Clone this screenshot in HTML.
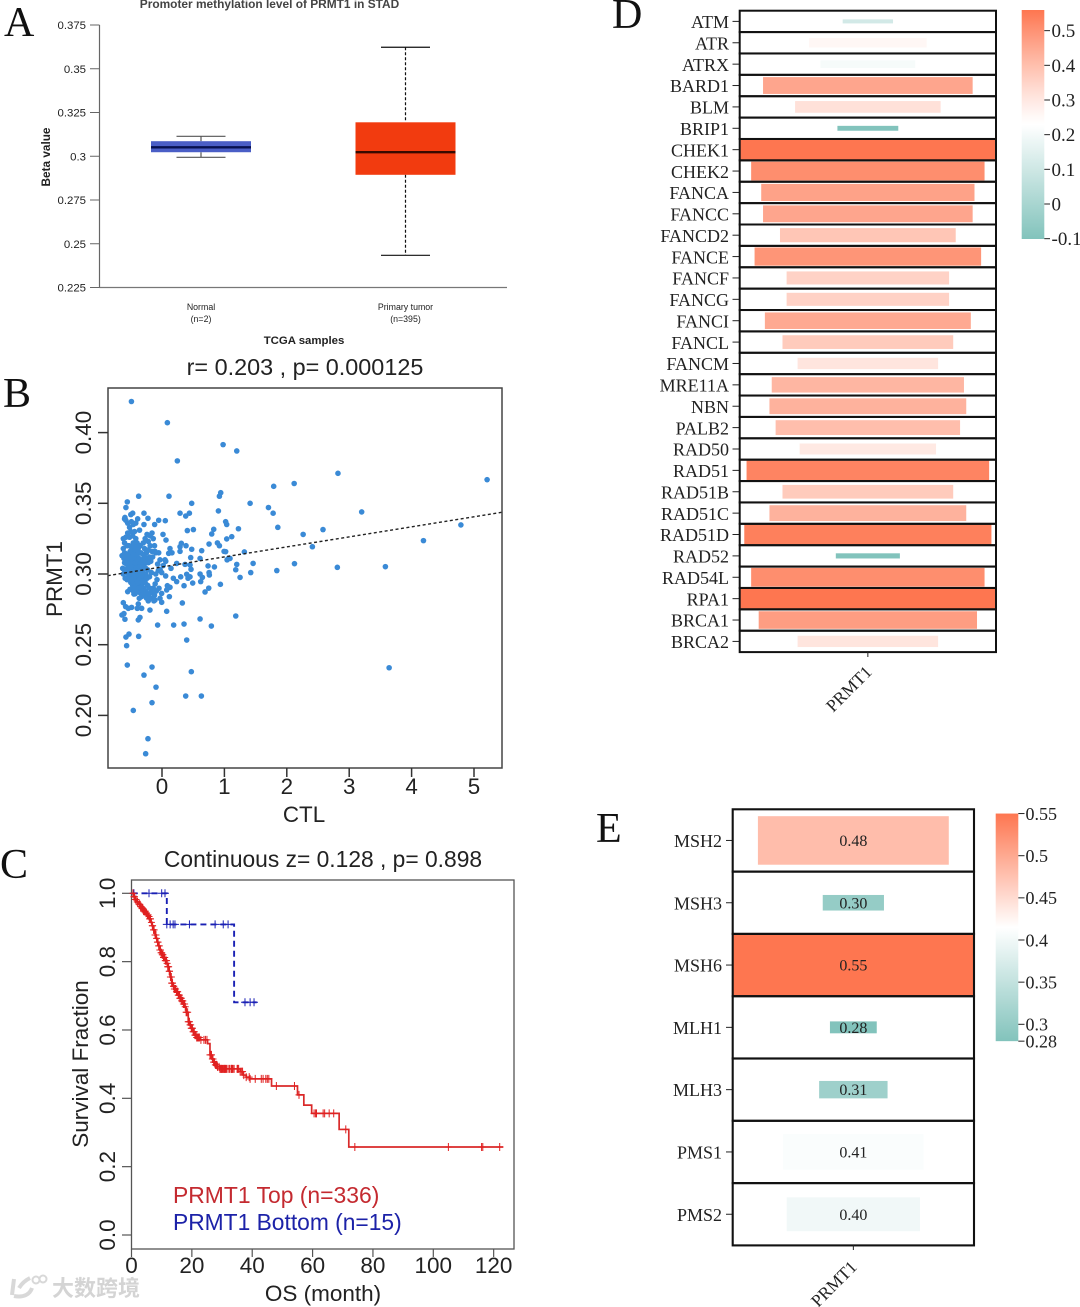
<!DOCTYPE html>
<html lang="en">
<head>
<meta charset="utf-8">
<title>PRMT1 multi-panel figure</title>
<style>
html,body{margin:0;padding:0;background:#fff;}
svg{display:block;}
text{font-family:"Liberation Sans",sans-serif;}
.serif{font-family:"Liberation Serif",serif;}
.panel-letter{font-family:"Liberation Serif",serif;font-size:42px;fill:#111;}
</style>
</head>
<body>
<svg id="figure" xmlns="http://www.w3.org/2000/svg" width="1080" height="1307" viewBox="0 0 1080 1307">
<rect x="0" y="0" width="1080" height="1307" fill="#fff"/>
<defs>
<linearGradient id="cbD" x1="0" y1="0" x2="0" y2="1"></linearGradient>
<linearGradient id="cbE" x1="0" y1="0" x2="0" y2="1"></linearGradient>
</defs>

<text class="panel-letter" x="4" y="36">A</text>
<text class="panel-letter" x="3" y="407">B</text>
<text class="panel-letter" x="0" y="878">C</text>
<text class="panel-letter" x="612" y="28">D</text>
<text class="panel-letter" x="596" y="842">E</text>

<g id="panelA">
<text x="269.5" y="8" text-anchor="middle" font-size="11.9" font-weight="bold" fill="#444">Promoter methylation level of PRMT1 in STAD</text>
<text transform="rotate(-90 50 157)" x="50" y="157" text-anchor="middle" font-size="11.8" font-weight="bold" fill="#222">Beta value</text>
<text x="304" y="344" text-anchor="middle" font-size="11.4" font-weight="bold" fill="#222">TCGA samples</text>
</g>

<g id="panelB">
<text x="305" y="375" text-anchor="middle" font-size="23.4" fill="#222">r= 0.203 , p= 0.000125</text>
<text transform="rotate(-90 62 579)" x="62" y="579" text-anchor="middle" font-size="22.4" fill="#222">PRMT1</text>
<text x="304" y="822" text-anchor="middle" font-size="22.4" fill="#222">CTL</text>
</g>

<g id="panelC">
<text x="323" y="867" text-anchor="middle" font-size="22.8" fill="#222">Continuous z= 0.128 , p= 0.898</text>
<text transform="rotate(-90 88 1064)" x="88" y="1064" text-anchor="middle" font-size="22.5" fill="#222">Survival Fraction</text>
<text x="323" y="1301" text-anchor="middle" font-size="22.5" fill="#222">OS (month)</text>
<text x="173" y="1203" font-size="22.9" fill="#c42a30">PRMT1 Top (n=336)</text>
<text x="173" y="1230" font-size="22.8" fill="#1c22a8">PRMT1 Bottom (n=15)</text>
</g>

<g id="panelD">
<text class="serif" transform="rotate(-45 873 673)" x="873" y="673" text-anchor="end" font-size="17.5" fill="#222">PRMT1</text>
</g>

<g id="panelE">
<text class="serif" transform="rotate(-45 858 1268)" x="858" y="1268" text-anchor="end" font-size="17.5" fill="#222">PRMT1</text>
</g>

<g>
<path d="M14 1279 L12 1295 M14 1296 C24 1298 30 1294 32 1288 M19 1288 C22 1283 26 1280 30 1278" fill="none" stroke="#d8d8d8" stroke-width="4"/>
<circle cx="36" cy="1280" r="3.5" fill="none" stroke="#d8d8d8" stroke-width="2"/>
<circle cx="43" cy="1279" r="3.5" fill="none" stroke="#d8d8d8" stroke-width="2"/>
<text x="52" y="1296" font-size="22" font-weight="bold" fill="#d4d4d4" style="font-family:'Liberation Sans','Noto Sans CJK SC',sans-serif">大数跨境</text>
</g>
</svg>

<script>
/* ---------- Panel A data ---------- */
const boxCategories = ['Normal', 'Primary tumor'];
const boxCounts = ['(n=2)', '(n=395)'];
const boxWhiskerLow = [0.2994, 0.2434];
const boxQ1 = [0.3023, 0.2894];
const boxMedian = [0.3051, 0.3023];
const boxQ3 = [0.3086, 0.3194];
const boxWhiskerHigh = [0.3114, 0.3623];
const boxYTicks = [0.225, 0.25, 0.275, 0.3, 0.325, 0.35, 0.375];
const boxYTickLabels = ['0.225', '0.25', '0.275', '0.3', '0.325', '0.35', '0.375'];

/* ---------- Panel B data: [CTL, PRMT1] ---------- */
const scatterOutliers = [
[-.49,.422],[.086,.407],[.246,.38],[.979,.3915],[1.198,.387],[1.79,.362],[2.118,.364],[-.556,.351],[-.578,.347],[-.374,.355],
[.112,.355],[.941,.3575],[.92,.355],[.476,.35],[1.412,.35],[1.706,.347],[1.781,.343],[1.856,.333],[2.262,.328],[.904,.3446],
[.439,.343],[.289,.343],[.38,.341],[-.289,.343],[-.47,.343],[-.594,.34],[-.225,.3394],[-.053,.338],[.053,.3377],[-.118,.335],
[-.289,.335],[1.02,.337],[1.037,.335],[1.225,.332],[.829,.3316],[.503,.3314],[.406,.3307],[.797,.3283],[.016,.328],[.064,.324],
[1.118,.3264],[1.037,.3248],[.888,.322],[.754,.3212],[.31,.3217],[.289,.3193],[.385,.32],[.476,.3175],[.636,.3165],[.92,.32],
[.995,.316],[1.02,.3158],[1.32,.3156],[.289,.316],[.128,.318],[.16,.315],[.107,.3146],[-.053,.315],[-.112,.316],[.46,.3116],
[.61,.311],[1.064,.311],[1.09,.311],[1.043,.31],[1.198,.3068],[1.46,.3075],[1.182,.303],[1.422,.301],[1.251,.2976],[1.84,.3024],
[2.123,.3073],[.84,.305],[.738,.3057],[.235,.3075],[.369,.3068],[.449,.3064],[.465,.3033],[-.032,.31],[.048,.31],[.144,.304],
[-.059,.3024],[-.005,.301],[.61,.3],[.754,.301],[.647,.2976],[.759,.2993],[.396,.2998],[.3,.298],[.449,.298],[.417,.297],
[.182,.297],[.059,.2986],[.235,.2946],[.353,.2917],[.492,.2936],[.62,.2946],[.086,.2917],[.128,.2906],[.075,.2887],[.118,.284],
[-.048,.2899],[-.005,.2863],[-.032,.2828],[-.005,.28],[-.112,.2816],[.326,.2795],[.936,.2927],[.749,.29],[.69,.2873],[.075,.2736],
[-.193,.2745],[1.182,.2703],[.61,.2682],[-.38,.2675],[-.353,.2693],[-.07,.2639],[.187,.2639],[.353,.2646],[.791,.2632],[-.374,.2559],
[-.529,.2575],[-.578,.2554],[-.567,.2493],[.396,.2533],[-.556,.2356],[-.16,.2342],[-.289,.2285],[.47,.2309],[-.096,.22],[.38,.2137],
[.631,.2137],[-.16,.209],[-.46,.2035],[-.225,.1835],[-.262,.1729],[2.82,.3712],[3.2,.3439],[2.58,.3314],[2.41,.3193],[2.81,.3047],
[3.58,.3052],[3.64,.2337],[4.19,.3236],[4.79,.3347],[5.21,.3667],
[-.62,.2797],[-.583,.2769],[-.642,.271],[-.61,.272],[-.594,.268],[-.54,.2757],[-.487,.2764],[-.38,.2788],[-.326,.2757],[-.396,.2757],
[-.364,.2828],[-.45,.2858],[-.55,.2875],[-.513,.2892]
];
const scatterCloud = [
[-.62,.325],[-.6,.322],[-.58,.326],[-.62,.318],[-.6,.315],[-.64,.313],[-.61,.311],[-.58,.312],[-.56,.314],[-.54,.31],
[-.52,.313],[-.6,.308],[-.57,.307],[-.63,.304],[-.6,.303],[-.58,.301],[-.55,.304],[-.52,.303],[-.62,.3],[-.59,.297],
[-.56,.296],[-.53,.298],[-.5,.3],[-.48,.303],[-.45,.306],[-.42,.309],[-.4,.306],[-.38,.303],[-.44,.3],[-.41,.298],
[-.38,.296],[-.35,.3],[-.33,.303],[-.36,.308],[-.33,.31],[-.3,.307],[-.28,.305],[-.25,.31],[-.22,.308],[-.2,.312],
[-.18,.309],[-.15,.312],[-.26,.3],[-.23,.303],[-.2,.298],[-.17,.301],[-.5,.294],[-.47,.292],[-.44,.295],[-.41,.291],
[-.38,.292],[-.35,.294],[-.32,.291],[-.46,.288],[-.43,.286],[-.4,.289],[-.36,.287],[-.33,.284],[-.29,.29],[-.26,.288],
[-.23,.292],[-.2,.29],[-.17,.287],[-.14,.29],[-.11,.293],[-.08,.296],[-.12,.285],[-.09,.288],[-.15,.283],[-.55,.329],
[-.52,.326],[-.5,.33],[-.47,.327],[-.44,.33],[-.42,.325],[-.4,.322],[-.46,.322],[-.49,.319],[-.44,.317],[-.41,.315],
[-.38,.318],[-.35,.32],[-.3,.322],[-.27,.325],[-.24,.328],[-.22,.323],[-.19,.327],[-.16,.329],[-.14,.325],[-.12,.32],
[-.28,.318],[-.25,.315],[-.22,.317],[-.19,.32],[-.16,.316],[-.1,.315],[-.55,.336],[-.52,.333],[-.49,.337],[-.46,.335],
[-.42,.336],[-.39,.339],[-.36,.331],[-.5,.342],[-.58,.338],[-.6,.339],[-.53,.32],[-.56,.32],[-.51,.307],[-.47,.31],
[-.44,.311],[-.4,.313],[-.37,.311],[-.34,.305],[-.31,.301],[-.29,.297],[-.47,.297],[-.44,.298],[-.41,.302],[-.38,.307],
[-.35,.303],[-.43,.305],[-.4,.3],[-.37,.299],[-.34,.297],[-.31,.294],[-.27,.294],[-.24,.297],[-.21,.286],[-.18,.283],
[-.13,.281],[-.1,.3],[-.07,.307],[-.03,.303],[.02,.306],[.06,.309],
[-.46,.304],[-.43,.308],[-.41,.304],[-.39,.31],[-.36,.305],[-.34,.308],[-.32,.306],[-.3,.31],[-.27,.308],[-.26,.304],
[-.47,.3],[-.45,.297],[-.42,.295],[-.39,.301],[-.37,.303],[-.36,.296],[-.33,.299],[-.32,.295],[-.48,.296],[-.46,.293],
[-.43,.291],[-.39,.294],[-.37,.29],[-.34,.29],[-.45,.29],[-.42,.288],[-.31,.288],[-.28,.286],[-.25,.283],[-.22,.281],
[-.5,.305],[-.54,.3],[-.56,.308],[-.49,.311],[-.51,.316],[-.46,.314],[-.42,.319],[-.34,.315],[-.31,.314],[-.28,.312]
];
const scatterTrendCtl = [-0.87, 5.44];
const scatterTrendPrmt1 = [0.2988, 0.3436];
const scatterXTicks = [0, 1, 2, 3, 4, 5];
const scatterXTickLabels = ['0', '1', '2', '3', '4', '5'];
const scatterYTicks = [0.20, 0.25, 0.30, 0.35, 0.40];
const scatterYTickLabels = ['0.20', '0.25', '0.30', '0.35', '0.40'];

/* ---------- Panel C data ---------- */
const kmTopTimes = [0,.6,1.2,1.8,2.4,2.8,3.4,4,4.6,5.2,5.6,6,6.4,6.8,7.2,7.8,8.2,8.6,9,9.4,9.8,10.2,10.6,11.2,11.7,12,12.4,12.8,13.3,13.8,14.2,14.8,15.5,16,16.6,17.2,17.7,18.1,18.8,19.3,19.8,20.4,21,21.6,22.7,25.2,26,26.6,27.1,27.7,28.4,29.3,36,37,38,39.2,46.4,55,57.1,59.7,68.8,72,123.2];
const kmTopSurvival = [1,.99,.982,.975,.968,.961,.955,.948,.942,.937,.932,.925,.915,.905,.893,.878,.868,.857,.846,.834,.826,.82,.812,.803,.795,.785,.772,.755,.737,.728,.72,.712,.702,.693,.685,.676,.668,.652,.624,.615,.605,.595,.585,.578,.571,.56,.527,.515,.506,.498,.492,.486,.478,.468,.462,.457,.436,.41,.38,.356,.309,.2575,.2575];
const kmTopCensored = [0.5,1,1.5,2,2.5,3,3.5,4,4.5,5,5.5,6,6.3,6.6,7,7.5,8,8.3,8.6,9,9.4,9.8,10.2,10.6,11,11.3,11.6,12,12.3,12.6,13,13.3,13.6,14,14.3,14.6,15,15.3,15.6,16,16.3,16.6,17,17.4,17.8,18.3,18.8,19.2,19.6,20,20.4,20.8,21.2,21.6,22,22.5,23,24,24.5,25,26,26.5,27,27.5,28,28.5,29,29.3,29.6,30,30.3,30.6,31,31.5,32,32.5,33,33.3,33.6,34,35,35.5,36,36.4,36.8,37.2,38,39,39.3,41,43,43.6,44.5,45,45.5,48,54,55.5,60.5,61,61.3,63.5,64,65.5,67,71,74,105,116,116.4,122,
.8,1.3,1.9,2.7,3.2,3.8,4.3,4.8,5.3,5.8,6.2,6.9,7.3,7.8,8.1,8.8,9.2,9.6,10,10.4,10.8,11.2,11.8,12.1,12.5,12.9,13.2,13.5,13.9,14.2,14.5,14.9,15.2,15.5,15.9,16.2,16.5,16.9,17.2,17.6,18.1,18.6,19,19.4,19.8,20.2,20.6,21,21.4,21.8,22.2,26.3,26.8,27.2,27.8,28.2,29.8,30.8,31.2,33.2,35.2];
const kmBottomTimes = [0,11.7,34,41.5];
const kmBottomSurvival = [1,.909,.681,.681];
const kmBottomCensored = [.8,5.8,10,11.1,11.7,12.8,13.8,14.4,19.2,27.7,30.4,32,37.6,39.3,40.6];
const kmXTicks = [0,20,40,60,80,100,120];
const kmXTickLabels = ['0','20','40','60','80','100','120'];
const kmYTicks = [0,.2,.4,.6,.8,1];
const kmYTickLabels = ['0.0','0.2','0.4','0.6','0.8','1.0'];

/* ---------- Panel D data ---------- */
const heatDGenes = ['ATM','ATR','ATRX','BARD1','BLM','BRIP1','CHEK1','CHEK2','FANCA','FANCC','FANCD2','FANCE','FANCF','FANCG','FANCI','FANCL','FANCM','MRE11A','NBN','PALB2','RAD50','RAD51','RAD51B','RAD51C','RAD51D','RAD52','RAD54L','RPA1','BRCA1','BRCA2'];
const heatDValues = [.11,.257,.207,.458,.318,-.133,.56,.51,.466,.458,.384,.495,.355,.355,.45,.373,.307,.42,.43,.403,.298,.53,.373,.43,.54,-.14,.51,.56,.477,.307];
const colorbarDTicks = [-.1,0,.1,.2,.3,.4,.5];
const colorbarDLabels = ['-0.1','0','0.1','0.2','0.3','0.4','0.5'];

/* ---------- Panel E data ---------- */
const heatEGenes = ['MSH2','MSH3','MSH6','MLH1','MLH3','PMS1','PMS2'];
const heatEValues = [.48,.30,.55,.28,.31,.41,.40];
const heatEPrinted = ['0.48','0.30','0.55','0.28','0.31','0.41','0.40'];
const colorbarETicks = [.28,.3,.35,.4,.45,.5,.55];
const colorbarELabels = ['0.28','0.3','0.35','0.4','0.45','0.5','0.55'];

/* ---------- helpers ---------- */
const NS = 'http://www.w3.org/2000/svg';
function mk(tag, attrs, parent, txt){
  const e = document.createElementNS(NS, tag);
  for (const k in attrs) e.setAttribute(k, attrs[k]);
  if (txt !== undefined) e.textContent = txt;
  parent.appendChild(e);
  return e;
}
function mix(a, b, t){
  return 'rgb(' + a.map((c, i) => Math.round(c + (b[i] - c) * t)).join(',') + ')';
}
const WHITE = [255,255,255], TEAL = [130,195,188], ORANGE = [254,118,80];
function divergingColor(v, lo, mid, hi, gamma){
  if (v >= mid) return mix(WHITE, ORANGE, Math.pow(Math.min(1, (v - mid) / (hi - mid)), gamma));
  return mix(WHITE, TEAL, Math.min(1, (mid - v) / (mid - lo)));
}

/* ---------- Panel A ---------- */
(function(){
  const g = document.getElementById('panelA');
  const AX = 99.5;
  const y = v => 287.5 - (v - 0.225) * 1750;
  const x = i => 201 + 204.5 * i;
  const fills = ['#4a5ec6', '#f23b0f'];
  const meds = ['#06104f', '#3a0a00'];
  const stems = ['#555', '#111'];
  const axisY = mk('line', {x1:AX, y1:y(0.375), x2:AX, y2:287.5, stroke:'#666', 'stroke-width':1.2}, g);
  
  
  const axisX = mk('line', {x1:AX, y1:287.5, x2:507, y2:287.5, stroke:'#777', 'stroke-width':1.2}, g);
  
  
  boxYTicks.forEach((t, i) => {
    const tick = mk('line', {x1:90, y1:y(t), x2:AX, y2:y(t), stroke:'#666', 'stroke-width':1}, g);
    
    
    const lab = mk('text', {x:86, y:y(t)+4, 'text-anchor':'end', 'font-size':11.4, fill:'#222'}, g, boxYTickLabels[i]);
    
    
  });
  boxCategories.forEach((c, i) => {
    const cx = x(i);
    const stemHi = mk('line', {x1:cx, y1:y(boxWhiskerHigh[i]), x2:cx, y2:y(boxQ3[i]), stroke:stems[i], 'stroke-width':1.2, 'stroke-dasharray':i ? '3 2' : 'none'}, g);
    
    
    const stemLo = mk('line', {x1:cx, y1:y(boxQ1[i]), x2:cx, y2:y(boxWhiskerLow[i]), stroke:stems[i], 'stroke-width':1.2, 'stroke-dasharray':i ? '3 2' : 'none'}, g);
    
    
    const capHi = mk('line', {x1:cx-24.5, y1:y(boxWhiskerHigh[i]), x2:cx+24.5, y2:y(boxWhiskerHigh[i]), stroke:stems[i], 'stroke-width':1.2}, g);
    
    
    const capLo = mk('line', {x1:cx-24.5, y1:y(boxWhiskerLow[i]), x2:cx+24.5, y2:y(boxWhiskerLow[i]), stroke:stems[i], 'stroke-width':1.2}, g);
    
    
    const box = mk('rect', {x:cx-50, y:y(boxQ3[i]), width:100, height:y(boxQ1[i])-y(boxQ3[i]), fill:fills[i]}, g);
    
    
    const med = mk('line', {x1:cx-50, y1:y(boxMedian[i]), x2:cx+50, y2:y(boxMedian[i]), stroke:meds[i], 'stroke-width':2.4}, g);
    
    
    const name = mk('text', {x:cx, y:310, 'text-anchor':'middle', 'font-size':8.8, fill:'#222'}, g, c);
    
    
    const cnt = mk('text', {x:cx, y:322, 'text-anchor':'middle', 'font-size':8.8, fill:'#222'}, g, boxCounts[i]);
    
    
  });
})();

/* ---------- Panel B ---------- */
(function(){
  const g = document.getElementById('panelB');
  const x = v => 162 + v * 62.4;
  const y = v => 574 - (v - 0.30) * 1414;
  const clip = mk('clipPath', {id:'scatterClip'}, g);
  mk('rect', {x:108, y:388, width:394, height:380}, clip);
  scatterOutliers.concat(scatterCloud).forEach(p => {
    const c = mk('circle', {cx:x(p[0]), cy:y(p[1]), r:2.8, fill:'#3a8ad6'}, g);
    
    
  });
  const trend = mk('line', {x1:x(scatterTrendCtl[0]), y1:y(scatterTrendPrmt1[0]), x2:x(scatterTrendCtl[1]), y2:y(scatterTrendPrmt1[1]), stroke:'#222', 'stroke-width':1.4, 'stroke-dasharray':'3 2.5', 'clip-path':'url(#scatterClip)'}, g);
  
  
  const frame = mk('rect', {x:108, y:388, width:394, height:380, fill:'none', stroke:'#444', 'stroke-width':1.5}, g);
  
  
  scatterXTicks.forEach((t, i) => {
    const tick = mk('line', {x1:x(t), y1:768, x2:x(t), y2:777, stroke:'#333', 'stroke-width':1.5}, g);
    
    
    const lab = mk('text', {x:x(t), y:794, 'text-anchor':'middle', 'font-size':22.4, fill:'#222'}, g, scatterXTickLabels[i]);
    
    
  });
  scatterYTicks.forEach((t, i) => {
    const tick = mk('line', {x1:98, y1:y(t), x2:108, y2:y(t), stroke:'#333', 'stroke-width':1.5}, g);
    
    
    const lab = mk('text', {x:91, y:y(t), transform:'rotate(-90 91 ' + y(t) + ')', 'text-anchor':'middle', 'font-size':22.4, fill:'#222'}, g, scatterYTickLabels[i]);
    
    
  });
})();

/* ---------- Panel C ---------- */
(function(){
  const g = document.getElementById('panelC');
  const x = v => 131.5 + v * 3.018;
  const y = v => 1235 - v * 341.7;
  const stepPath = (ts, ss) => {
    let d = 'M' + x(ts[0]) + ' ' + y(ss[0]);
    for (let i = 1; i < ts.length; i++) d += ' H' + x(ts[i]) + ' V' + y(ss[i]);
    return d;
  };
  const stepAt = (ts, ss, t) => {
    let s = ss[0];
    for (let i = 0; i < ts.length; i++) if (ts[i] <= t) s = ss[i];
    return s;
  };
  const frame = mk('rect', {x:131.5, y:880, width:382.5, height:369, fill:'none', stroke:'#555', 'stroke-width':1.3}, g);
  
  
  kmXTicks.forEach((t, i) => {
    const tick = mk('line', {x1:x(t), y1:1249, x2:x(t), y2:1257, stroke:'#555', 'stroke-width':1.2}, g);
    
    
    const lab = mk('text', {x:x(t), y:1273, 'text-anchor':'middle', 'font-size':22.5, fill:'#222'}, g, kmXTickLabels[i]);
    
    
  });
  kmYTicks.forEach((t, i) => {
    const tick = mk('line', {x1:122, y1:y(t), x2:131.5, y2:y(t), stroke:'#555', 'stroke-width':1.2}, g);
    
    
    const lab = mk('text', {x:115, y:y(t), transform:'rotate(-90 115 ' + y(t) + ')', 'text-anchor':'middle', 'font-size':22.5, fill:'#222'}, g, kmYTickLabels[i]);
    
    
  });
  const blue = mk('path', {d:stepPath(kmBottomTimes, kmBottomSurvival), fill:'none', stroke:'#1a20b4', 'stroke-width':1.9, 'stroke-dasharray':'6 4'}, g);
  
  
  kmBottomCensored.forEach(t => {
    const cx = x(t), cy = y(stepAt(kmBottomTimes, kmBottomSurvival, t));
    const m = mk('path', {d:'M'+(cx-4)+' '+cy+' H'+(cx+4)+' M'+cx+' '+(cy-4)+' V'+(cy+4), stroke:'#1a20b4', 'stroke-width':1, fill:'none'}, g);
    
    
  });
  const red = mk('path', {d:stepPath(kmTopTimes, kmTopSurvival), fill:'none', stroke:'#d92a2a', 'stroke-width':1.7}, g);
  
  
  kmTopCensored.forEach(t => {
    const cx = x(t), cy = y(stepAt(kmTopTimes, kmTopSurvival, t));
    const m = mk('path', {d:'M'+(cx-3.5)+' '+cy+' H'+(cx+3.5)+' M'+cx+' '+(cy-4)+' V'+(cy+4), stroke:'#e02020', 'stroke-width':1, fill:'none'}, g);
    
    
  });
})();

/* ---------- Panel D ---------- */
(function(){
  const g = document.getElementById('panelD');
  const LEFT = 739.7, RIGHT = 996, TOP = 10.7, H = 21.38, MAXV = .56;
  const cx = (LEFT + RIGHT) / 2;
  const color = v => divergingColor(v, -.1, .23, .56, 1.15);
  heatDGenes.forEach((name, i) => {
    const v = heatDValues[i], f = Math.min(1, Math.abs(v) / MAXV);
    const w = (RIGHT - LEFT) * f, h = 20.6 * f;
    const my = TOP + H * (i + .5);
    const bar = mk('rect', {x:cx - w/2, y:my - h/2, width:w, height:h, fill:color(v)}, g);
    
    
    const tick = mk('line', {x1:732.5, y1:my, x2:LEFT, y2:my, stroke:'#222', 'stroke-width':1}, g);
    
    
    const lab = mk('text', {x:729, y:my + 6.7, 'text-anchor':'end', 'font-size':18, fill:'#222', class:'serif'}, g, name);
    
    
  });
  heatDGenes.forEach((name, i) => {
    const cell = mk('rect', {x:LEFT, y:TOP + H*i, width:RIGHT-LEFT, height:H, fill:'none', stroke:'#111', 'stroke-width':2}, g);
    
    
  });
  const xt = mk('line', {x1:cx, y1:652, x2:cx, y2:657, stroke:'#222', 'stroke-width':1}, g);
  
  

  const cbY = v => 204 - v * 346.7;
  const grad = document.getElementById('cbD');
  for (let k = 0; k <= 30; k++) {
    const p = k / 30;
    const v = .56 - p * .66;
    mk('stop', {offset:p, 'stop-color':color(v)}, grad);
  }
  const bar = mk('rect', {x:1021.7, y:10, width:22.6, height:229, fill:'url(#cbD)'}, g);
  
  
  colorbarDTicks.forEach((t, i) => {
    const tick = mk('line', {x1:1044.3, y1:cbY(t), x2:1050, y2:cbY(t), stroke:'#222', 'stroke-width':1}, g);
    
    
    const lab = mk('text', {x:1051.5, y:cbY(t) + 6.5, 'font-size':19, fill:'#222', class:'serif'}, g, colorbarDLabels[i]);
    
    
  });
})();

/* ---------- Panel E ---------- */
(function(){
  const g = document.getElementById('panelE');
  const LEFT = 732.7, RIGHT = 974, TOP = 809.3, H = 62.3;
  const cx = (LEFT + RIGHT) / 2;
  const color = v => divergingColor(v, .28, .415, .55, 1);
  heatEGenes.forEach((name, i) => {
    const v = heatEValues[i], f = Math.max(.05, Math.min(1, (v - .215) / .335));
    const w = (RIGHT - LEFT) * f, h = 62 * f * (f < 1 ? .99 : 1);
    const my = TOP + H * (i + .5);
    const bar = mk('rect', {x:cx - w/2, y:my - h/2, width:w, height:h, fill:color(v)}, g);
    
    
    const val = mk('text', {x:cx, y:my + 5.5, 'text-anchor':'middle', 'font-size':16, fill:'#222', class:'serif'}, g, heatEPrinted[i]);
    
    
    const tick = mk('line', {x1:726, y1:my, x2:LEFT, y2:my, stroke:'#222', 'stroke-width':1}, g);
    
    
    const lab = mk('text', {x:722, y:my + 6.5, 'text-anchor':'end', 'font-size':18, fill:'#222', class:'serif'}, g, name);
    
    
  });
  heatEGenes.forEach((name, i) => {
    const cell = mk('rect', {x:LEFT, y:TOP + H*i, width:RIGHT-LEFT, height:H, fill:'none', stroke:'#111', 'stroke-width':2.1}, g);
    
    
  });
  const xt = mk('line', {x1:cx, y1:1245, x2:cx, y2:1250, stroke:'#222', 'stroke-width':1}, g);
  
  

  const cbY = v => 1024.3 - (v - .3) * 843;
  const grad = document.getElementById('cbE');
  for (let k = 0; k <= 30; k++) {
    const p = k / 30;
    const v = .55 - p * .27;
    mk('stop', {offset:p, 'stop-color':color(v)}, grad);
  }
  const bar = mk('rect', {x:995.7, y:cbY(.55), width:22.6, height:cbY(.28)-cbY(.55), fill:'url(#cbE)'}, g);
  
  
  colorbarETicks.forEach((t, i) => {
    const tick = mk('line', {x1:1018.3, y1:cbY(t), x2:1024.5, y2:cbY(t), stroke:'#222', 'stroke-width':1}, g);
    
    
    const lab = mk('text', {x:1025.5, y:cbY(t) + 6.3, 'font-size':18, fill:'#222', class:'serif'}, g, colorbarELabels[i]);
    
    
  });
})();
</script>
</body>
</html>
